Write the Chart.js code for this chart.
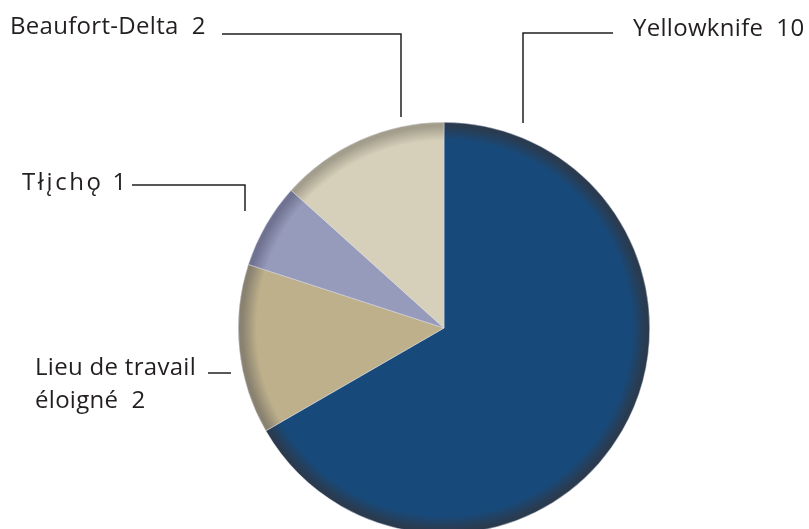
<!DOCTYPE html>
<html>
<head>
<meta charset="utf-8">
<script src="https://cdn.jsdelivr.net/npm/chart.js@4.4.0/dist/chart.umd.min.js"></script>
<style>
  html, body { margin: 0; padding: 0; background: #fff; overflow: hidden; }
  #wrap { position: relative; width: 809px; height: 540px; }
</style>
</head>
<body>
<div id="wrap"><canvas id="pieChart" width="809" height="540"></canvas></div>
<script>
// Données du graphique
const regions = ["Yellowknife", "Lieu de travail éloigné", "Tłįchǫ", "Beaufort-Delta"];
const valeurs = [10, 2, 1, 2];
const couleurs = ["#174a7b", "#bdb08b", "#979bbb", "#d6cfb9"];
const couleursBord = ["#2a3b50", "#8a8270", "#6f7290", "#a39d8c"];

// Étiquettes et traits de rappel (positions dans la page)
const etiquettes = [
    { lignes: ["Yellowknife  10"], x: 633, y: 36, espace: 0.3, trait: [[613, 33], [523, 33], [523, 123]] },
    { lignes: ["Lieu de travail", "éloigné  2"], x: 35, y: 375, espace: 0.3, trait: [[208, 373], [231, 373]] },
    { lignes: ["Tłįchǫ 1"], x: 22, y: 190, espace: 2.6, trait: [[132, 185], [245, 185], [245, 211]] },
    { lignes: ["Beaufort-Delta  2"], x: 10, y: 34, espace: 0.3, trait: [[222, 34], [401, 34], [401, 117]] }
];

// Dégradé radial pour l'ombre sur le bord du disque
function degrade(context) {
    const chart = context.chart;
    const area = chart.chartArea;
    const i = context.dataIndex;
    if (!area) return couleurs[i];
    const cx = (area.left + area.right) / 2;
    const cy = (area.top + area.bottom) / 2;
    const r = Math.min(area.right - area.left, area.bottom - area.top) / 2;
    const g = chart.ctx.createRadialGradient(cx, cy, 0, cx, cy, r);
    g.addColorStop(0, couleurs[i]);
    g.addColorStop(0.91, couleurs[i]);
    g.addColorStop(0.98, couleursBord[i]);
    g.addColorStop(1, couleursBord[i]);
    return g;
}

// Plugin pour dessiner les étiquettes
const pluginEtiquettes = {
    id: "etiquettes",
    afterDraw(chart) {
        const ctx = chart.ctx;
        ctx.save();
        ctx.fillStyle = "#231f20";
        ctx.strokeStyle = "#231f20";
        ctx.lineWidth = 1.5;
        ctx.font = '24px "Open Sans"';
        ctx.textBaseline = "alphabetic";
        etiquettes.forEach(function (e) {
            ctx.letterSpacing = e.espace + "px";
            e.lignes.forEach(function (t, k) {
                ctx.fillText(t, e.x, e.y + k * 33);
            });
            ctx.beginPath();
            e.trait.forEach(function (p, k) {
                if (k === 0) ctx.moveTo(p[0], p[1]);
                else ctx.lineTo(p[0], p[1]);
            });
            ctx.stroke();
        });
        ctx.restore();
    }
};

const ctx = document.getElementById("pieChart").getContext("2d");
const chart = new Chart(ctx, {
    type: "pie",
    data: {
        labels: regions,
        datasets: [{
            data: valeurs,
            backgroundColor: degrade,
            borderWidth: 0.6,
            borderColor: "rgba(220,220,230,0.8)"
        }]
    },
    options: {
        responsive: false,
        animation: false,
        layout: {
            padding: { top: 122, bottom: 6, left: 238, right: 159 }
        },
        plugins: {
            legend: { display: false },
            tooltip: { enabled: false }
        }
    },
    plugins: [pluginEtiquettes]
});
</script>
</body>
</html>
